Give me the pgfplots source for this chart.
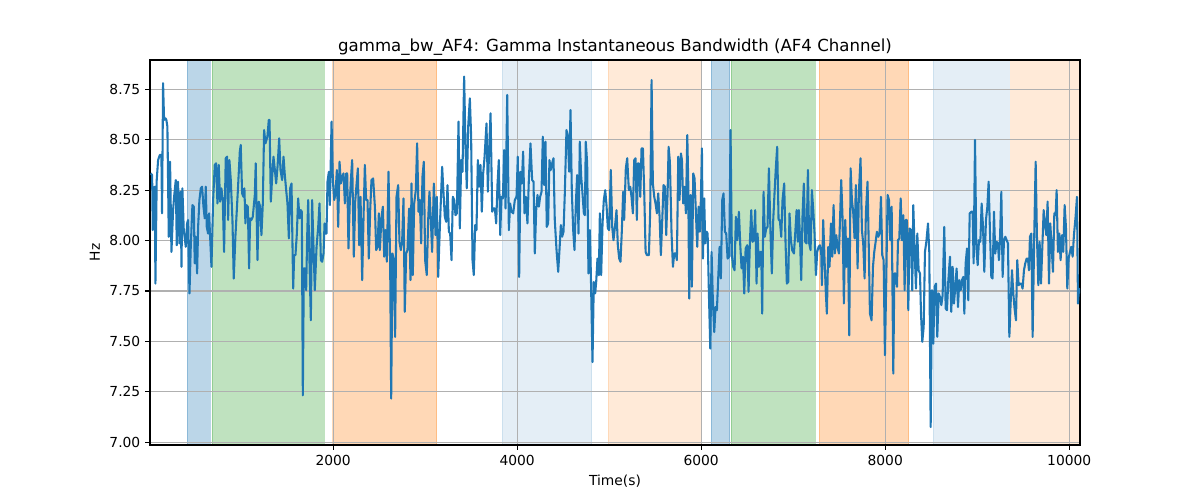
\documentclass[border=0pt]{standalone}
\usepackage{fontspec}
\setmainfont{DejaVu Sans}
\usepackage{pgfplots}
\pgfplotsset{compat=1.18}
\definecolor{mplblue}{HTML}{1F77B4}
\definecolor{mplgreen}{HTML}{2CA02C}
\definecolor{mplorange}{HTML}{FF7F0E}
\begin{document}
\begin{tikzpicture}
\begin{axis}[
 set layers, clip mode=individual,
 scale only axis, width=9.3in, height=3.85in,
 xmin=10, xmax=10117, ymin=6.987, ymax=8.895,
 xtick={2000,4000,6000,8000,10000},
 ytick={7,7.25,7.5,7.75,8,8.25,8.5,8.75},
 grid=major, grid style={color=black!31, line width=0.8pt},
 axis line style={line width=0.8pt},
 tick align=outside, xtick pos=left, ytick pos=left,
 major tick length=3.5pt, tick style={line width=0.8pt, black},
 /pgf/number format/assume math mode=true,
 /pgf/number format/1000 sep={},
 scaled ticks=false,
 yticklabel style={/pgf/number format/.cd,fixed,fixed zerofill,precision=2},
 title={gamma\_bw\_AF4: Gamma Instantaneous Bandwidth (AF4 Channel)},
 title style={font=\fontsize{12}{14}\selectfont, at={(0.5,1)}, anchor=base, yshift=0pt},
 xlabel={Time(s)}, ylabel={Hz},
 tick label style={font=\fontsize{10}{12}\selectfont},
 label style={font=\fontsize{10}{12}\selectfont},
 no markers,
]
\addplot[fill=mplblue, fill opacity=0.3, draw=mplblue, draw opacity=0.3, on layer=axis background] coordinates {(410,6.9) (667,6.9) (667,9) (410,9)} -- cycle;
\addplot[fill=mplgreen, fill opacity=0.3, draw=mplgreen, draw opacity=0.3, on layer=axis background] coordinates {(682,6.9) (1899,6.9) (1899,9) (682,9)} -- cycle;
\addplot[fill=mplorange, fill opacity=0.3, draw=mplorange, draw opacity=0.3, on layer=axis background] coordinates {(1995,6.9) (3124,6.9) (3124,9) (1995,9)} -- cycle;
\addplot[fill=mplblue, fill opacity=0.12, draw=mplblue, draw opacity=0.12, on layer=axis background] coordinates {(3834,6.9) (4809,6.9) (4809,9) (3834,9)} -- cycle;
\addplot[fill=mplorange, fill opacity=0.16, draw=mplorange, draw opacity=0.16, on layer=axis background] coordinates {(4986,6.9) (6004,6.9) (6004,9) (4986,9)} -- cycle;
\addplot[fill=mplblue, fill opacity=0.3, draw=mplblue, draw opacity=0.3, on layer=axis background] coordinates {(6106,6.9) (6309,6.9) (6309,9) (6106,9)} -- cycle;
\addplot[fill=mplgreen, fill opacity=0.3, draw=mplgreen, draw opacity=0.3, on layer=axis background] coordinates {(6323,6.9) (7236,6.9) (7236,9) (6323,9)} -- cycle;
\addplot[fill=mplorange, fill opacity=0.3, draw=mplorange, draw opacity=0.3, on layer=axis background] coordinates {(7280,6.9) (8255,6.9) (8255,9) (7280,9)} -- cycle;
\addplot[fill=mplblue, fill opacity=0.12, draw=mplblue, draw opacity=0.12, on layer=axis background] coordinates {(8519,6.9) (9348,6.9) (9348,9) (8519,9)} -- cycle;
\addplot[fill=mplorange, fill opacity=0.16, draw=mplorange, draw opacity=0.16, on layer=axis background] coordinates {(9363,6.9) (10200,6.9) (10200,9) (9363,9)} -- cycle;
\addplot[mplblue, line width=1.5pt, line join=round] coordinates {
(18,8.333)(33,8.325)(40,8.052)(51,8.259)(62,8.267)(69,7.787)(83,8.300)(98,8.399)(116,8.424)(134,8.424)(141,8.135)(152,8.780)(163,8.598)(178,8.606)(188,8.598)(199,8.565)(214,8.019)(228,8.391)(243,7.944)(261,8.151)(272,8.217)(290,8.300)(301,7.977)(315,8.292)(330,7.986)(344,8.242)(352,7.870)(362,8.259)(377,8.052)(388,8.011)(399,7.969)(413,8.085)(424,8.102)(439,7.738)(453,7.969)(471,8.176)(486,8.168)(496,7.887)(507,8.019)(522,7.837)(533,8.068)(547,8.201)(562,8.259)(576,8.267)(591,8.168)(605,8.110)(616,8.267)(627,8.068)(641,8.035)(652,8.135)(678,7.870)(696,8.201)(714,8.375)(728,8.383)(743,8.184)(757,8.375)(772,8.193)(786,8.259)(801,8.201)(815,7.944)(833,8.408)(848,8.416)(859,8.102)(873,8.399)(888,8.300)(906,8.102)(920,7.812)(938,8.019)(967,8.267)(986,8.441)(996,8.474)(1011,8.234)(1025,8.217)(1036,8.259)(1047,8.085)(1058,8.176)(1073,8.168)(1087,7.862)(1098,8.110)(1112,8.102)(1127,8.118)(1149,8.226)(1159,8.383)(1178,7.903)(1192,8.193)(1207,8.168)(1221,8.027)(1236,8.184)(1250,8.548)(1265,8.482)(1286,8.515)(1301,8.598)
(1309,8.598)(1323,8.193)(1338,8.317)(1352,8.416)(1367,8.350)(1381,8.283)(1396,8.366)(1414,8.507)(1428,8.350)(1446,8.300)(1461,8.416)(1475,8.325)(1490,8.250)(1504,8.184)(1519,8.011)(1533,8.259)(1548,8.283)(1566,7.762)(1577,7.928)(1591,7.928)(1606,8.035)(1620,8.209)(1635,8.110)(1649,8.151)(1660,8.143)(1671,7.233)(1682,7.862)(1696,7.862)(1707,7.754)(1718,8.019)(1729,8.201)(1743,7.903)(1758,7.605)(1772,8.201)(1787,7.969)(1801,7.754)(1820,7.969)(1838,8.068)(1852,8.184)(1867,7.903)(1881,7.895)(1896,7.936)(1907,8.085)(1917,8.035)(1928,8.035)(1939,8.292)(1954,8.341)(1965,8.176)(1983,8.590)(1997,8.300)(2012,8.201)(2026,8.234)(2041,8.350)(2055,8.068)(2070,8.391)(2084,8.283)(2099,8.317)(2113,8.333)(2128,8.184)(2142,8.333)(2153,8.333)(2167,7.961)(2182,8.201)(2193,8.300)(2207,8.399)(2225,7.920)(2240,8.193)(2254,8.275)(2269,8.358)(2283,7.977)(2298,8.217)(2316,7.804)(2330,8.102)(2345,8.375)(2359,8.201)(2374,8.201)(2388,7.911)(2403,8.151)(2417,8.300)(2435,8.308)(2454,8.168)(2468,7.953)(2483,7.969)(2497,8.135)(2508,7.953)(2526,8.118)(2541,8.168)(2555,7.920)(2570,8.052)(2584,7.895)(2602,8.341)
(2620,7.887)(2631,7.217)(2645,7.936)(2660,7.903)(2674,7.523)(2689,8.217)(2707,8.275)(2721,7.994)(2736,7.953)(2750,7.994)(2765,8.209)(2779,7.647)(2794,7.936)(2808,7.953)(2826,8.159)(2841,7.804)(2852,8.283)(2866,7.829)(2881,8.184)(2899,8.250)(2913,8.482)(2928,8.143)(2942,8.201)(2957,7.986)(2971,8.317)(2986,8.391)(3000,7.903)(3018,7.829)(3033,8.102)(3047,8.242)(3062,8.102)(3076,7.944)(3095,8.283)(3113,8.027)(3127,8.217)(3142,7.820)(3160,8.068)(3185,8.366)(3200,8.234)(3214,8.118)(3229,8.093)(3243,8.275)(3258,8.044)(3272,8.035)(3287,7.903)(3301,8.217)(3316,8.201)(3330,8.126)(3345,8.135)(3363,8.590)(3377,8.060)(3392,8.399)(3406,8.341)(3424,8.813)(3439,8.457)(3453,8.259)(3468,8.565)(3486,8.705)(3500,8.515)(3515,7.903)(3529,7.829)(3544,8.077)(3558,8.052)(3573,8.399)(3587,8.267)(3602,8.375)(3616,8.143)(3631,8.333)(3645,8.408)(3667,8.581)(3682,8.242)(3696,8.457)(3711,8.631)(3729,8.143)(3743,8.159)(3758,8.159)(3772,8.085)(3787,8.283)(3801,8.399)(3816,8.027)(3830,8.217)(3845,8.209)(3859,8.449)(3874,8.159)(3892,8.722)(3910,8.052)
(3924,8.184)(3938,8.143)(3957,8.135)(3975,8.201)(3993,8.217)(4007,8.416)(4022,7.820)(4036,8.341)(4051,8.283)(4065,8.441)(4080,8.135)(4094,8.217)(4112,8.085)(4127,8.300)(4145,8.482)(4163,8.300)(4178,8.292)(4192,7.936)(4207,8.151)(4221,8.226)(4236,8.168)(4250,8.217)(4265,8.242)(4279,8.515)(4294,8.275)(4308,8.490)(4322,8.068)(4337,8.085)(4351,8.399)(4366,8.350)(4380,8.383)(4395,8.408)(4409,8.102)(4428,7.953)(4446,7.845)(4460,7.953)(4475,8.077)(4489,8.019)(4504,8.044)(4518,8.234)(4536,8.548)(4551,8.515)(4565,8.341)(4580,8.647)(4594,8.250)(4609,8.052)(4623,7.953)(4638,8.184)(4652,8.325)(4667,8.035)(4681,8.490)(4696,8.317)(4710,8.234)(4725,8.135)(4736,8.126)(4746,8.490)(4761,8.383)(4775,7.837)(4790,8.052)(4801,7.837)(4819,7.398)(4833,7.795)(4848,7.738)(4859,7.795)(4873,7.911)(4888,7.829)(4899,8.135)(4913,7.829)(4928,8.085)(4942,8.201)(4957,8.250)(4971,8.176)(4986,8.060)(5000,8.052)(5018,8.350)(5033,8.068)(5047,8.002)(5065,8.077)(5080,8.151)(5094,7.977)(5109,7.911)(5123,7.895)(5138,8.052)(5152,8.242)(5163,8.102)(5181,8.358)(5196,8.408)(5214,8.250)
(5229,8.267)(5243,8.217)(5258,8.135)(5272,8.399)(5287,8.408)(5301,8.102)(5312,8.383)(5323,8.383)(5338,8.217)(5352,8.457)(5367,8.457)(5381,8.242)(5396,7.944)(5410,7.928)(5432,7.928)(5446,8.151)(5461,8.796)(5475,8.283)(5490,8.217)(5504,8.184)(5519,8.135)(5533,8.234)(5548,8.118)(5562,7.928)(5577,8.102)(5591,8.275)(5606,8.267)(5620,8.027)(5635,8.234)(5646,8.465)(5660,8.391)(5678,8.035)(5693,7.870)(5707,7.936)(5722,7.936)(5736,7.903)(5751,8.416)(5765,8.201)(5780,8.432)(5791,8.399)(5805,8.184)(5820,8.267)(5834,8.135)(5849,8.523)(5859,8.300)(5870,7.713)(5885,8.226)(5899,7.771)(5914,8.333)(5928,8.308)(5943,8.135)(5957,7.969)(5972,8.168)(5986,8.044)(5997,8.209)(6008,8.457)(6019,7.911)(6033,8.209)(6044,7.986)(6059,8.044)(6070,8.035)(6084,7.738)(6099,7.465)(6113,7.944)(6127,7.704)(6142,7.547)(6156,7.671)(6171,7.655)(6185,7.812)(6200,7.969)(6214,7.812)(6229,8.201)(6243,8.234)(6258,8.044)(6272,8.035)(6287,7.911)(6305,7.920)(6319,8.548)(6334,7.928)(6348,7.870)(6363,7.853)(6377,8.118)(6392,8.002)(6410,8.143)(6425,7.977)(6439,7.862)(6454,7.920)(6468,7.738)(6483,7.961)(6501,7.977)(6515,7.746)
(6529,7.986)(6544,8.151)(6558,7.994)(6573,8.002)(6587,8.151)(6602,7.787)(6613,8.035)(6627,7.870)(6642,7.944)(6653,7.944)(6663,7.638)(6678,8.242)(6692,8.019)(6707,8.060)(6721,8.068)(6736,8.358)(6754,8.027)(6768,7.837)(6783,8.102)(6797,8.234)(6812,8.366)(6826,8.465)(6841,8.102)(6855,8.102)(6870,8.019)(6884,8.201)(6902,8.283)(6917,7.986)(6931,7.787)(6946,7.795)(6960,8.135)(6975,8.002)(6989,7.953)(7008,7.936)(7022,8.035)(7037,8.151)(7051,7.994)(7062,8.151)(7076,7.986)(7087,7.804)(7102,8.135)(7116,8.283)(7131,7.994)(7145,7.986)(7160,8.350)(7174,7.986)(7189,7.953)(7203,8.250)(7218,8.151)(7232,8.035)(7247,7.829)(7261,7.944)(7276,7.969)(7290,7.977)(7305,7.936)(7312,7.779)(7326,8.102)(7341,7.903)(7355,7.738)(7366,7.638)(7381,7.969)(7395,7.870)(7410,8.085)(7424,7.920)(7439,8.176)(7453,7.936)(7468,8.027)(7482,7.969)(7497,7.936)(7511,8.135)(7522,8.300)(7537,8.102)(7551,7.688)(7566,8.102)(7580,7.870)(7595,8.011)(7609,7.531)(7624,8.358)(7638,8.201)(7652,8.143)(7667,8.011)(7681,8.275)(7700,7.862)(7714,8.242)(7732,8.408)(7747,8.052)(7761,7.986)(7776,7.812)(7790,8.135)(7808,8.292)(7823,7.928)(7834,7.638)
(7852,7.605)(7867,7.870)(7881,7.944)(7896,7.994)(7910,8.044)(7925,8.019)(7939,8.035)(7954,8.217)(7968,7.928)(7983,7.903)(7997,7.432)(8012,7.820)(8026,8.226)(8041,8.201)(8055,8.002)(8070,8.168)(8088,7.341)(8099,7.837)(8113,7.837)(8128,7.771)(8139,8.002)(8153,8.011)(8168,8.209)(8182,8.002)(8197,8.126)(8211,7.754)(8222,8.102)(8236,8.102)(8251,7.655)(8265,8.060)(8280,8.052)(8294,7.754)(8305,8.176)(8320,7.953)(8334,7.762)(8349,8.035)(8363,7.853)(8378,7.837)(8389,7.638)(8403,7.498)(8418,7.572)(8432,7.944)(8447,7.994)(8465,8.085)(8479,7.944)(8494,7.076)(8508,7.754)(8523,7.489)(8537,7.771)(8552,7.787)(8566,7.523)(8581,7.738)(8595,7.721)(8610,7.680)(8624,7.729)(8642,8.068)(8657,7.663)(8671,7.655)(8686,7.804)(8704,7.920)(8718,7.647)(8733,7.870)(8747,7.688)(8762,7.771)(8776,7.862)(8791,7.671)(8805,7.804)(8820,7.754)(8834,7.804)(8849,7.820)(8860,7.638)(8874,7.887)(8889,7.961)(8903,7.704)(8918,8.135)(8936,8.143)(8950,8.143)(8961,7.887)(8976,8.499)(8990,7.969)(9005,7.878)(9019,8.002)(9034,7.994)(9048,8.184)(9063,8.068)(9077,7.845)(9095,8.102)(9110,8.168)(9124,8.292)(9139,8.035)
(9153,7.820)(9167,7.812)(9182,8.143)(9196,7.936)(9211,7.994)(9225,7.986)(9236,7.903)(9247,8.002)(9262,8.242)(9276,7.820)(9291,8.002)(9305,8.019)(9320,8.002)(9334,7.986)(9349,7.523)(9363,7.688)(9378,7.853)(9392,7.738)(9406,7.663)(9421,7.605)(9435,7.903)(9450,7.779)(9464,7.787)(9479,7.787)(9493,7.762)(9508,7.853)(9522,7.887)(9537,7.911)(9551,7.911)(9562,7.853)(9573,8.019)(9588,8.035)(9602,7.523)(9620,8.035)(9635,8.391)(9649,8.019)(9664,7.779)(9678,7.994)(9693,7.787)(9707,7.961)(9722,8.151)(9736,8.085)(9751,8.027)(9765,8.193)(9780,7.787)(9794,8.085)(9809,7.969)(9823,7.845)(9838,8.135)(9852,8.126)(9863,8.250)(9877,7.944)(9892,8.035)(9906,7.903)(9921,8.027)(9935,7.944)(9950,8.176)(9964,8.068)(9979,7.762)(9993,7.911)(10008,7.944)(10022,7.969)(10037,7.920)(10051,8.027)(10069,8.118)(10084,8.217)(10095,7.688)(10106,7.762)(10117,7.738)
};
\end{axis}
\pgfresetboundingbox
\path ([shift={(-1.5in,-0.55in)}]current axis.south west) rectangle ([shift={(1.2in,0.6in)}]current axis.north east);
\end{tikzpicture}
\end{document}
